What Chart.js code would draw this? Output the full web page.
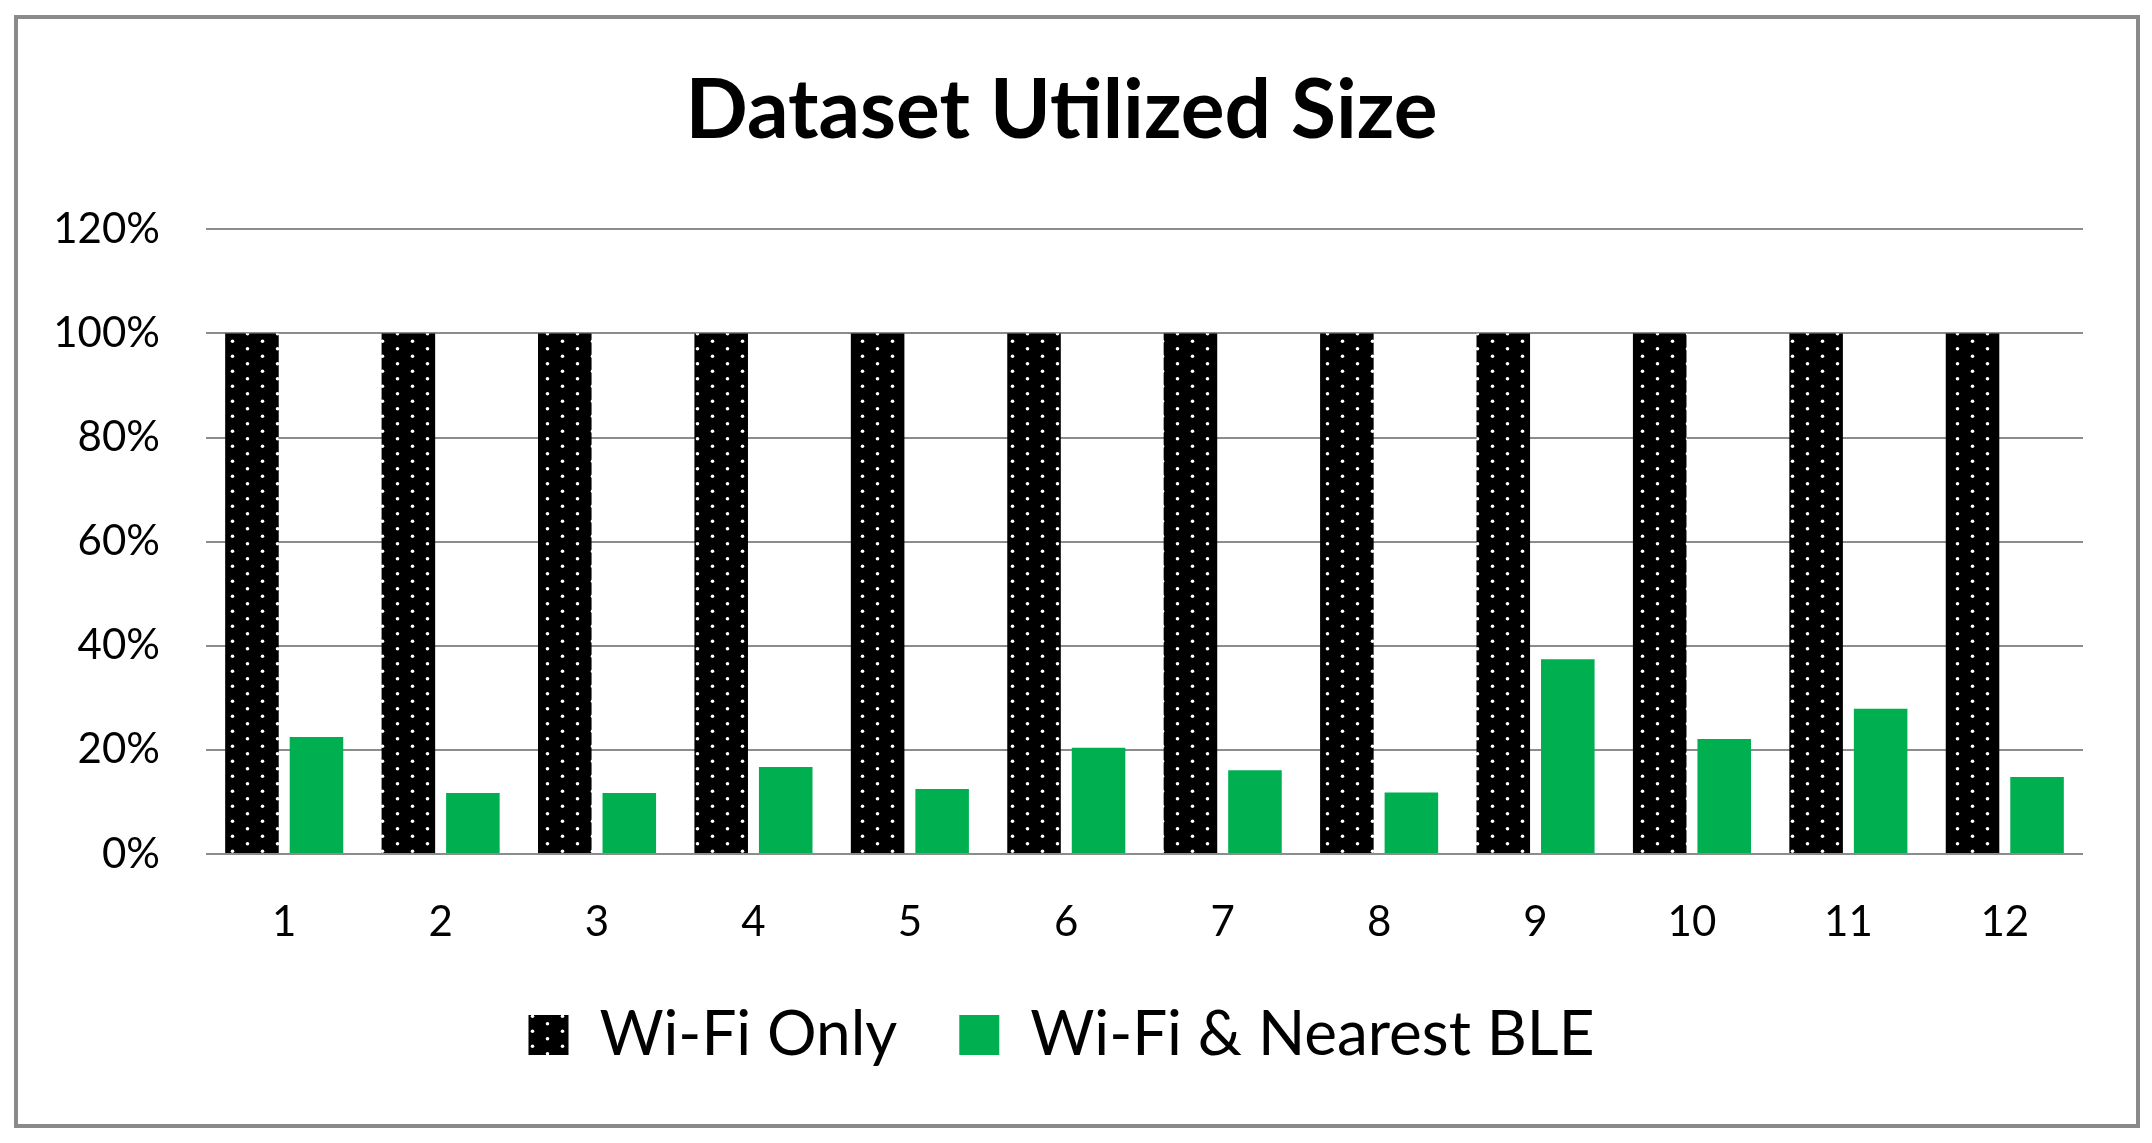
<!DOCTYPE html>
<html><head><meta charset="utf-8">
<script src="https://cdn.jsdelivr.net/npm/chart.js@4.4.1/dist/chart.umd.min.js"></script>
<style>html,body{margin:0;padding:0;background:#fff;}canvas{display:block;}</style>
</head><body>
<canvas id="c" width="2152" height="1143"></canvas>
<script>
const chartTitle = 'Dataset Utilized Size';
const categories = ['1', '2', '3', '4', '5', '6', '7', '8', '9', '10', '11', '12'];
const seriesNames = ['Wi-Fi Only', 'Wi-Fi & Nearest BLE'];
const wifiOnly = [100, 100, 100, 100, 100, 100, 100, 100, 100, 100, 100, 100];
const wifiNearestBle = [22.5, 11.7, 11.7, 16.7, 12.5, 20.4, 16.1, 11.8, 37.4, 22.1, 27.9, 14.8];
const yTickLabels = ['0%', '20%', '40%', '60%', '80%', '100%', '120%'];

const canvas = document.getElementById('c');
const ctx = canvas.getContext('2d');

function dotPattern() {
  const t = document.createElement('canvas');
  t.width = 30; t.height = 15;
  const g = t.getContext('2d');
  g.fillStyle = '#000'; g.fillRect(0, 0, 30, 15);
  g.fillStyle = '#fff';
  [[7.5, 3.75], [22.5, 11.25]].forEach(([x, y]) => {
    g.beginPath(); g.arc(x, y, 1.8, 0, Math.PI * 2); g.fill();
  });
  return ctx.createPattern(t, 'repeat');
}

const frame = {
  id: 'frame',
  beforeDraw(chart) {
    const c = chart.ctx;
    c.save(); c.fillStyle = '#fff'; c.fillRect(0, 0, chart.width, chart.height); c.restore();
  },
  afterDraw(chart) {
    const c = chart.ctx;
    c.save(); c.strokeStyle = '#8a8a8a'; c.lineWidth = 4;
    c.strokeRect(16, 17, 2122, 1109); c.restore();
  }
};

new Chart(ctx, {
  type: 'bar',
  data: {
    labels: categories,
    datasets: [
      { label: seriesNames[0], data: wifiOnly, backgroundColor: dotPattern(), borderWidth: 0,
        categoryPercentage: 0.825, barPercentage: 0.83 },
      { label: seriesNames[1], data: wifiNearestBle, backgroundColor: '#00B050', borderWidth: 0,
        categoryPercentage: 0.825, barPercentage: 0.83 }
    ]
  },
  options: {
    responsive: false, animation: false, devicePixelRatio: 1,
    layout: { padding: { left: 40, right: 69, top: 0, bottom: 67 } },
    plugins: {
      title: { display: true, text: chartTitle, color: '#000',
        font: { family: 'Lato', weight: 'bold', size: 82 }, padding: { top: 62, bottom: 69 } },
      legend: { position: 'bottom',
        labels: { color: '#000', font: { family: 'Lato', size: 62 }, boxWidth: 40, boxHeight: 40, padding: 62 } },
      tooltip: { enabled: false }
    },
    scales: {
      x: {
        grid: { display: false, drawTicks: false }, border: { display: false },
        ticks: { color: '#000', font: { family: 'Lato', size: 42, lineHeight: 0.8 }, padding: 52 },
        afterFit(s) { s.height = 88; }
      },
      y: {
        min: 0, max: 120,
        grid: { color: '#8c8c8c', lineWidth: 2, drawTicks: false }, border: { display: false },
        ticks: { stepSize: 20, color: '#000', font: { family: 'Lato', size: 42 }, padding: 46,
          callback: (v) => yTickLabels[Math.round(v / 20)] },
        afterFit(s) { s.width = 166; }
      }
    }
  },
  plugins: [frame]
});
</script>
</body></html>
